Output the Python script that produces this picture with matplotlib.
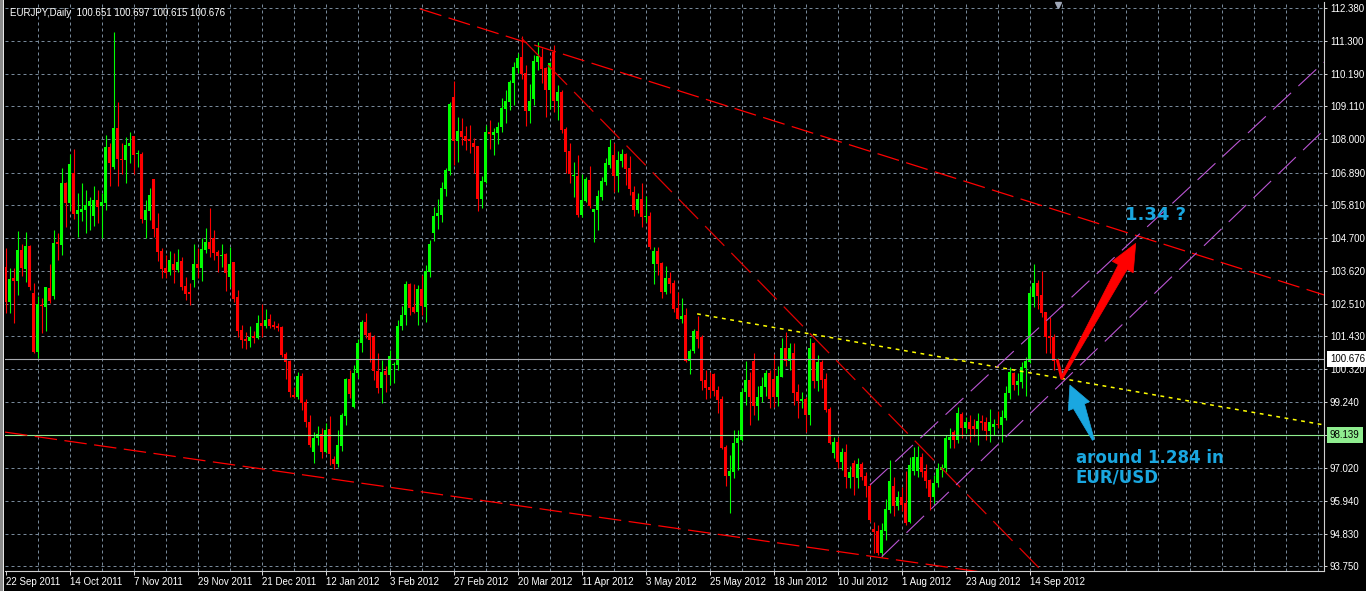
import matplotlib
matplotlib.use('Agg')
import matplotlib.pyplot as plt
import numpy as np
from matplotlib.patches import Polygon, Rectangle
from matplotlib.transforms import blended_transform_factory

plt.rcParams['font.family'] = ['Liberation Sans', 'DejaVu Sans']

# ---------------- data (EURJPY daily candles) ----------------
opens = [103.75, 102.58, 103.37, 103.27, 104.31, 103.67, 104.44, 102.86, 100.92, 102.47,
         102.42, 103.04, 102.78, 104.58, 104.48, 106.56, 105.88, 106.89, 105.52, 105.57,
         105.64, 105.78, 105.44, 105.98, 105.78, 105.87, 107.76, 107.09, 108.39, 107.36,
         107.31, 107.78, 108.11, 107.50, 107.51, 105.31, 105.61, 106.67, 105.04, 104.27,
         103.70, 103.56, 103.84, 103.64, 103.94, 103.11, 102.91, 103.31, 103.83, 103.72,
         104.31, 104.57, 104.70, 104.23, 104.12, 104.17, 103.42, 103.90, 102.75, 101.64,
         101.34, 101.27, 101.45, 101.38, 101.88, 101.77, 101.99, 101.80, 101.78, 101.75,
         100.84, 100.61, 99.48, 99.41, 100.10, 99.24, 98.58, 97.58, 98.03, 98.17,
         97.58, 98.33, 97.33, 97.17, 97.77, 98.77, 100.00, 99.08, 100.19, 101.19,
         101.91, 101.53, 101.41, 100.28, 99.71, 100.27, 100.14, 100.47, 100.47, 101.77,
         102.14, 103.16, 102.41, 102.25, 102.99, 102.41, 103.58, 104.89, 105.44, 105.48,
         106.34, 106.96, 109.40, 107.96, 108.28, 108.11, 108.03, 107.89, 107.79, 106.01,
         106.57, 108.26, 108.15, 108.22, 108.40, 109.02, 109.26, 109.89, 110.39, 110.76,
         110.21, 108.95, 109.35, 110.60, 110.76, 110.39, 109.65, 110.93, 109.29, 109.58,
         108.35, 107.62, 106.78, 106.79, 105.48, 105.95, 106.64, 105.59, 105.64, 106.09,
         106.59, 107.14, 107.48, 106.79, 107.29, 107.51, 107.05, 106.26, 105.64, 106.01,
         105.42, 105.44, 103.84, 104.29, 103.88, 102.90, 103.38, 103.20, 102.38, 102.00,
         102.14, 100.61, 100.95, 101.62, 101.41, 99.97, 99.72, 100.17, 99.64, 99.33,
         97.74, 96.77, 96.91, 97.86, 97.97, 99.56, 99.97, 100.60, 99.10, 99.39,
         99.74, 100.19, 99.99, 99.41, 100.08, 101.03, 100.60, 100.86, 99.58, 99.27,
         99.33, 98.80, 101.19, 99.95, 100.58, 99.99, 99.00, 97.54, 97.91, 97.24,
         97.58, 96.71, 97.21, 96.71, 97.17, 96.76, 96.44, 94.99, 94.94, 94.18,
         94.94, 95.63, 96.43, 95.77, 96.07, 95.85, 95.24, 96.94, 96.93, 97.41,
         96.94, 96.63, 96.07, 96.52, 96.97, 97.02, 97.97, 98.24, 97.97, 98.83,
         98.38, 98.56, 98.43, 98.33, 98.60, 98.58, 98.28, 98.41, 98.50, 98.47,
         98.69, 99.52, 100.19, 99.80, 99.91, 100.38, 100.58, 102.73, 103.22, 102.80,
         102.25, 101.44, 101.41, 100.651]

highs = [104.38, 103.70, 103.70, 104.94, 104.51, 104.91, 104.48, 103.20, 102.77, 102.70,
         103.06, 103.84, 104.98, 104.87, 107.04, 106.57, 107.51, 107.68, 106.20, 106.54,
         106.31, 106.09, 106.45, 106.31, 106.20, 108.15, 107.87, 111.60, 109.26, 107.87,
         108.09, 108.26, 108.11, 107.65, 107.59, 105.98, 106.37, 106.67, 105.53, 104.36,
         104.14, 104.28, 104.22, 104.33, 104.09, 103.42, 103.22, 104.50, 104.38, 104.70,
         105.03, 105.70, 104.98, 104.31, 104.51, 104.20, 104.42, 103.90, 102.97, 101.80,
         101.56, 101.77, 101.60, 102.14, 102.50, 102.34, 102.17, 101.95, 101.86, 101.77,
         100.91, 100.64, 99.72, 100.24, 100.21, 99.32, 98.79, 98.24, 98.43, 98.36,
         98.52, 98.77, 97.43, 98.30, 98.86, 100.03, 100.30, 100.47, 101.33, 101.97,
         102.20, 101.58, 101.47, 100.86, 100.64, 100.44, 100.97, 100.58, 101.97, 102.44,
         103.27, 103.20, 103.17, 103.14, 103.47, 103.81, 104.64, 105.75, 106.00, 106.59,
         107.04, 109.26, 109.96, 108.76, 108.72, 108.45, 108.48, 108.04, 107.79, 106.79,
         108.48, 108.65, 108.37, 108.59, 109.37, 109.65, 109.98, 110.57, 110.87, 111.45,
         110.48, 109.85, 110.82, 111.26, 111.04, 110.43, 110.59, 111.15, 109.82, 109.65,
         108.43, 107.87, 107.26, 107.48, 106.85, 106.76, 107.11, 105.68, 106.31, 106.76,
         107.37, 108.00, 107.87, 107.62, 107.67, 107.56, 107.45, 106.45, 106.22, 106.56,
         106.11, 105.59, 104.42, 104.42, 103.92, 103.78, 103.58, 103.31, 102.90, 102.70,
         102.36, 101.00, 101.66, 102.12, 101.47, 100.31, 100.25, 100.21, 99.77, 99.44,
         97.80, 97.47, 98.30, 98.30, 99.69, 100.61, 100.25, 100.88, 99.77, 100.06,
         100.30, 100.30, 100.84, 100.44, 101.38, 101.58, 101.19, 101.19, 99.83, 99.58,
         99.41, 101.36, 101.24, 100.80, 100.64, 100.19, 99.08, 98.07, 98.07, 97.69,
         97.83, 97.10, 97.30, 97.36, 97.24, 96.91, 96.52, 95.24, 95.13, 95.19,
         95.99, 97.30, 96.74, 96.27, 96.41, 96.94, 97.39, 97.72, 97.77, 97.52,
         97.17, 96.66, 96.80, 97.19, 97.17, 98.13, 98.36, 98.30, 99.08, 98.91,
         98.74, 98.80, 98.66, 98.88, 98.80, 98.72, 99.00, 98.67, 98.94, 98.97,
         99.77, 100.39, 100.25, 100.19, 100.58, 100.75, 103.03, 103.84, 103.31, 103.62,
         102.25, 102.06, 101.50, 100.697]

lows = [102.20, 102.20, 101.88, 102.81, 103.45, 103.25, 102.97, 100.88, 100.69, 101.55,
        101.60, 102.53, 102.67, 103.97, 104.14, 105.09, 105.64, 105.33, 104.75, 105.29,
        104.87, 104.98, 105.11, 105.22, 104.70, 105.64, 106.44, 107.00, 106.45, 106.85,
        106.55, 107.20, 106.84, 107.09, 105.22, 104.70, 105.31, 104.75, 103.95, 103.36,
        103.36, 103.47, 103.20, 103.58, 102.97, 102.64, 102.47, 103.08, 103.36, 103.28,
        104.20, 104.06, 103.98, 103.58, 103.75, 102.95, 103.08, 102.58, 101.42, 101.05,
        100.99, 101.08, 101.21, 101.33, 101.42, 101.69, 101.69, 101.66, 101.62, 100.75,
        100.00, 99.41, 99.36, 99.32, 98.97, 98.39, 97.74, 97.21, 97.80, 97.38,
        97.52, 97.13, 96.99, 97.08, 97.60, 98.47, 99.36, 99.02, 100.03, 100.91,
        101.36, 100.58, 99.97, 99.52, 99.19, 99.58, 99.80, 99.86, 100.30, 101.64,
        101.80, 102.14, 102.20, 101.80, 102.14, 101.91, 103.40, 104.62, 105.00, 105.25,
        106.11, 106.81, 107.15, 107.26, 107.81, 107.65, 107.54, 106.89, 105.61, 105.70,
        106.54, 107.68, 107.48, 107.85, 108.26, 108.56, 108.98, 109.15, 110.21, 110.00,
        108.45, 108.56, 109.15, 110.32, 109.87, 108.76, 109.02, 108.92, 108.65, 108.20,
        106.87, 106.54, 106.09, 105.42, 105.42, 105.92, 105.70, 104.59, 104.98, 105.98,
        106.48, 107.03, 106.25, 106.25, 107.09, 106.48, 106.15, 105.44, 105.53, 105.09,
        105.25, 104.34, 103.17, 103.47, 102.72, 102.83, 102.86, 102.25, 102.00, 101.86,
        100.58, 100.16, 100.88, 101.03, 99.64, 99.32, 99.36, 99.44, 98.88, 97.66,
        96.43, 95.52, 96.69, 96.97, 97.94, 99.13, 98.47, 98.80, 98.63, 99.24,
        99.44, 99.02, 99.08, 99.10, 100.06, 100.44, 100.30, 99.13, 98.69, 99.02,
        98.24, 98.47, 99.69, 99.61, 99.69, 98.91, 97.83, 97.38, 97.02, 96.97,
        96.35, 96.35, 96.13, 96.35, 96.63, 96.07, 95.24, 94.18, 94.13, 94.07,
        94.63, 95.52, 95.43, 95.63, 95.60, 95.13, 95.18, 96.80, 96.74, 96.74,
        96.35, 95.63, 95.85, 96.41, 96.74, 96.91, 97.69, 97.69, 97.87, 98.02,
        98.19, 97.91, 98.10, 97.80, 98.30, 97.97, 97.91, 98.13, 98.35, 97.91,
        98.63, 99.32, 99.64, 99.47, 99.71, 99.44, 100.53, 102.42, 102.33, 102.06,
        100.88, 100.88, 100.30, 100.615]

closes = [102.58, 103.34, 103.27, 104.31, 103.72, 104.44, 103.08, 100.92, 102.50, 102.44,
          103.06, 102.60, 104.53, 104.51, 106.54, 105.88, 107.18, 105.52, 105.64, 105.68,
          105.81, 105.94, 105.98, 105.73, 105.92, 107.76, 107.22, 108.39, 107.34, 107.32,
          107.81, 107.87, 107.48, 107.54, 105.34, 105.64, 106.14, 105.02, 104.25, 103.67,
          103.55, 103.97, 103.64, 103.90, 103.08, 102.84, 102.84, 103.83, 103.71, 104.33,
          104.57, 104.34, 104.22, 104.12, 104.14, 103.53, 103.83, 102.67, 101.62, 101.30,
          101.27, 101.42, 101.37, 101.86, 101.77, 101.97, 101.77, 101.73, 101.71, 100.80,
          100.58, 99.58, 99.41, 100.10, 99.19, 98.58, 97.80, 98.04, 98.17, 97.58,
          98.30, 97.50, 97.17, 97.80, 98.80, 100.00, 99.50, 100.19, 101.21, 101.91,
          101.47, 101.30, 100.28, 99.71, 100.25, 100.14, 100.77, 100.50, 101.77, 102.14,
          103.16, 102.38, 102.25, 102.99, 102.45, 103.61, 104.51, 105.44, 105.53, 106.37,
          106.98, 109.18, 107.96, 108.28, 108.09, 107.96, 107.96, 107.76, 106.01, 106.61,
          108.26, 108.18, 108.26, 108.40, 109.04, 109.28, 109.93, 110.43, 110.73, 110.17,
          108.96, 109.29, 110.63, 110.77, 110.34, 109.65, 110.54, 109.29, 109.58, 108.31,
          107.59, 106.85, 106.81, 105.48, 105.98, 106.68, 105.78, 105.68, 106.12, 106.62,
          107.22, 107.74, 106.79, 107.31, 107.51, 107.00, 106.35, 105.64, 106.01, 105.42,
          105.44, 104.40, 104.29, 103.84, 102.90, 103.38, 103.17, 102.34, 102.00, 102.12,
          100.61, 100.95, 101.62, 101.33, 99.95, 99.69, 99.63, 99.60, 99.30, 97.71,
          96.77, 96.93, 97.88, 98.04, 99.58, 99.97, 99.39, 99.10, 99.41, 99.77,
          100.19, 99.34, 99.39, 100.10, 101.03, 100.60, 101.03, 99.55, 99.27, 99.35,
          98.80, 101.03, 99.95, 100.58, 99.97, 98.97, 97.86, 97.91, 97.24, 97.58,
          96.74, 96.91, 96.72, 97.16, 96.72, 96.44, 95.30, 94.91, 94.18, 94.96,
          95.65, 96.60, 95.77, 96.05, 95.80, 95.20, 97.13, 97.41, 97.41, 96.91,
          96.61, 96.07, 96.52, 96.99, 97.06, 98.02, 98.08, 97.97, 98.86, 98.38,
          98.56, 98.33, 98.33, 98.60, 98.52, 98.28, 98.56, 98.50, 98.47, 98.72,
          99.55, 100.25, 99.80, 99.94, 100.41, 100.61, 102.88, 103.22, 102.77, 102.21,
          101.41, 101.38, 100.61, 100.676]

date_tick_index = [0, 16, 32, 48, 64, 80, 96, 112, 128, 144, 160, 176, 192, 208, 224, 240, 256]
date_labels = ["22 Sep 2011", "14 Oct 2011", "7 Nov 2011", "29 Nov 2011", "21 Dec 2011",
               "12 Jan 2012", "3 Feb 2012", "27 Feb 2012", "20 Mar 2012", "11 Apr 2012",
               "3 May 2012", "25 May 2012", "18 Jun 2012", "10 Jul 2012", "1 Aug 2012",
               "23 Aug 2012", "14 Sep 2012"]
price_levels = [112.380, 111.300, 110.190, 109.110, 108.000, 106.890, 105.810, 104.700,
                103.620, 102.510, 101.430, 100.320, 99.240, 98.130, 97.020, 95.940,
                94.830, 93.750]
price_labels = ["112.380", "111.300", "110.190", "109.110", "108.000", "106.890", "105.810",
                "104.700", "103.620", "102.510", "101.430", "100.320", "99.240", "",
                "97.020", "95.940", "94.830", "93.750"]
bid_price = 100.676
level_price = 98.139
header_text = "EURJPY,Daily  100.651 100.697 100.615 100.676"

# drawn objects: anchor points (candle index, price)
upper_red_pts = [(258.6, 105.81), (329.6, 102.81)]
lower_red_pts = [(-0.125, 98.23), (221.9, 93.98)]
steep_red_pts = [(129.05, 111.375), (236.1, 96.74)]
yellow_pts = [(174.45, 102.14), (329.6, 98.47)]
violet_upper_pts = [(216.1, 96.46), (295.3, 106.31)]
violet_lower_pts = [(219.05, 94.07), (313.2, 106.20)]

# ---------------- figure ----------------
W, H = 1366, 591
fig = plt.figure(figsize=(W / 100, H / 100), dpi=100, facecolor='black')
ax_l, ax_r, ax_t, ax_b = 5, 1324, 2, 571
ax = fig.add_axes([ax_l / W, (H - ax_b) / H, (ax_r - ax_l) / W, (ax_b - ax_t) / H])
ax.set_facecolor('black')
XMIN, XMAX = -0.125, 329.625
YMIN, YMAX = 93.593, 112.587
ax.set_xlim(XMIN, XMAX)
ax.set_ylim(YMIN, YMAX)

grid_c = '#778899'
for p in price_levels:
    ax.axhline(p, color=grid_c, lw=0.72, ls=(0, (3, 3)), zorder=0.5)
for gx in range(8, 330, 8):
    ax.axvline(gx, color=grid_c, lw=0.72, ls=(0, (3, 3)), zorder=0.5)

# candles
x = np.arange(len(opens))
o = np.array(opens); h = np.array(highs); l = np.array(lows); c = np.array(closes)
up = c >= o
cols = np.where(up, '#00FF00', '#FF0000')
ax.vlines(x, l, h, colors=cols, lw=0.8, zorder=2)
body_bottom = np.minimum(o, c)
body_h = np.maximum(np.abs(c - o), 0.034)
ax.bar(x, body_h, bottom=body_bottom, width=0.78, color=cols, linewidth=0, zorder=3)

# horizontal lines
ax.axhline(bid_price, color='#A8AAB0', lw=0.8, zorder=4)
ax.axhline(level_price, color='#90EE90', lw=0.8, zorder=4)


def extended(pts, x0, x1):
    (xa, ya), (xb, yb) = pts
    s = (yb - ya) / (xb - xa)
    return [x0, x1], [ya + s * (x0 - xa), ya + s * (x1 - xa)]


xs, ys = extended(upper_red_pts, 103.6, XMAX)
ax.plot(xs, ys, color='#FF0000', lw=0.9, ls=(0, (18, 6)), zorder=5)
xs, ys = extended(lower_red_pts, XMIN, 262)
ax.plot(xs, ys, color='#FF0000', lw=0.9, ls=(0, (18, 6)), zorder=5)
xs, ys = extended(steep_red_pts, 129.05, 270)
ax.plot(xs, ys, color='#E00000', lw=0.9, ls=(0, (22, 8)), zorder=5)
xs, ys = extended(yellow_pts, 172.9, XMAX)
ax.plot(xs, ys, color='#FFFF00', lw=1.1, ls=(0, (2.5, 3)), zorder=5)
xs, ys = extended(violet_upper_pts, 216.1, XMAX)
ax.plot(xs, ys, color='#BA55D3', lw=0.8, ls=(0, (22, 9)), zorder=5)
xs, ys = extended(violet_lower_pts, 219.05, XMAX)
ax.plot(xs, ys, color='#BA55D3', lw=0.8, ls=(0, (22, 9)), zorder=5)


def arrow_poly(tail, tip, head_len, head_half, neck_half, tail_half):
    T = ax.transData.transform(tail)
    P = ax.transData.transform(tip)
    d = P - T
    u = d / np.hypot(*d)
    n = np.array([-u[1], u[0]])
    B = P - u * head_len
    pts = [T + n * tail_half, B + n * neck_half, B + n * head_half, P,
           B - n * head_half, B - n * neck_half, T - n * tail_half]
    return ax.transData.inverted().transform(np.array(pts))


# red arrow with short tail from last candle
ax.plot([263, 264.05], [100.62, 100.03], color='#FF0000', lw=2.2, zorder=6,
        solid_capstyle='round')
ax.add_patch(Polygon(arrow_poly((264.05, 100.03), (282.55, 104.53), 27, 12, 5, 1.2),
                     closed=True, facecolor='#FF0000', edgecolor='#FF0000', lw=0.5, zorder=6))
# blue arrow
blue = '#1AA7E0'
ax.add_patch(Polygon(arrow_poly((271.95, 97.97), (266.1, 99.80), 23, 11.5, 6, 1.0),
                     closed=True, facecolor=blue, edgecolor=blue, lw=0.5, zorder=6))

ax.text(279.9, 105.48, "1.34 ?", color=blue, fontsize=13, fontweight='bold',
        family='DejaVu Sans', ha='left', va='center', zorder=7)
ax.text(267.6, 97.38, "around 1.284 in", color=blue, fontsize=12, fontweight='bold',
        family='DejaVu Sans', ha='left', va='center', zorder=7)
ax.text(267.6, 96.71, "EUR/USD", color=blue, fontsize=12, fontweight='bold',
        family='DejaVu Sans', ha='left', va='center', zorder=7)

# shift marker
ax.plot([263.1], [112.49], marker='v', color='#A0A8B8', markersize=5, clip_on=False, zorder=8)

# axes styling
for s in ('left', 'top'):
    ax.spines[s].set_visible(False)
for s in ('right', 'bottom'):
    ax.spines[s].set_color('#D0D0D0')
    ax.spines[s].set_linewidth(0.8)
ax.yaxis.tick_right()
ax.set_yticks(price_levels)
ax.set_yticklabels(price_labels)
ax.tick_params(axis='y', which='major', right=True, left=False, labelright=True,
               labelleft=False, length=2.5, width=0.72, color='#D0D0D0',
               labelcolor='white', labelsize=7, pad=1.8)
ax.set_xticks(date_tick_index)
ax.set_xticklabels(date_labels, ha='left')
ax.tick_params(axis='x', which='major', bottom=True, length=3, width=0.72,
               color='#D0D0D0', labelcolor='white', labelsize=7, pad=1.5)

tr = blended_transform_factory(ax.transAxes, ax.transData)
ax.text(1.0045, bid_price, f"{bid_price:.3f}", transform=tr, color='black', fontsize=7,
        ha='left', va='center', zorder=10, clip_on=False,
        bbox=dict(boxstyle='square,pad=0.3', fc='white', ec='none'))
ax.text(1.0045, level_price, f"{level_price:.3f}", transform=tr, color='black', fontsize=7,
        ha='left', va='center', zorder=10, clip_on=False,
        bbox=dict(boxstyle='square,pad=0.3', fc='#90EE90', ec='none'))

fig.text(9.5 / W, 1 - 13.5 / H, header_text, color='white', fontsize=7, ha='left', va='center')

# left border of the window
fig.patches.append(Rectangle((0, 0), 3 / W, 1, transform=fig.transFigure,
                             facecolor='#8A8A8A', edgecolor='none'))
fig.patches.append(Rectangle((3 / W, 0), 1 / W, 1, transform=fig.transFigure,
                             facecolor='#E6E6E6', edgecolor='none'))

fig.savefig('out.png', dpi=100, facecolor='black')
